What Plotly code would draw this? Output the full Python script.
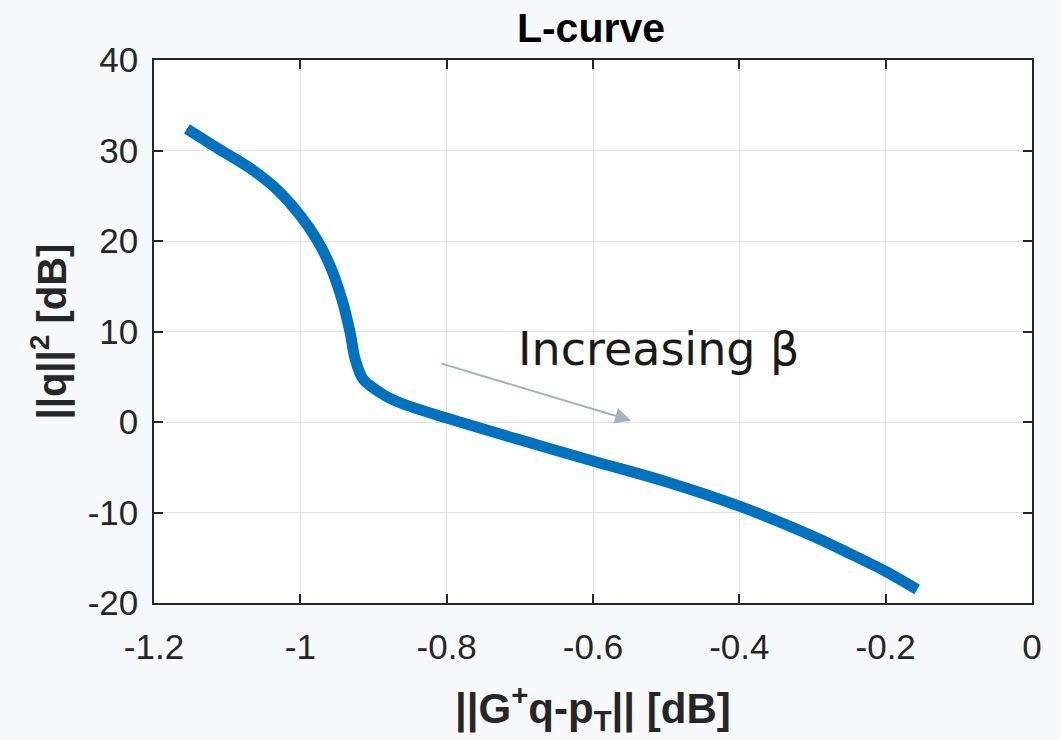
import plotly.graph_objects as go

# Data
residual_db = [-1.155, -1.114, -1.068, -1.032, -0.999, -0.977, -0.959, -0.943,
               -0.932, -0.925, -0.914, -0.886, -0.863, -0.8, -0.7, -0.6,
               -0.5, -0.4, -0.3, -0.25, -0.2, -0.157]
norm_db = [32.4, 30.3, 28.0, 25.7, 22.7, 20.1, 17.2, 13.5,
           9.9, 6.9, 4.7, 3.0, 2.1, 0.43, -1.97, -4.3,
           -6.6, -9.3, -12.6, -14.5, -16.5, -18.5]

x_ticks = [-1.2, -1, -0.8, -0.6, -0.4, -0.2, 0]
x_tick_labels = ["-1.2", "-1", "-0.8", "-0.6", "-0.4", "-0.2", "0"]
y_ticks = [-20, -10, 0, 10, 20, 30, 40]
y_tick_labels = ["-20", "-10", "0", "10", "20", "30", "40"]

arrow_tail = (-0.809, 6.5)
arrow_head = (-0.548, 0.17)
label_pos = (-0.511, 8.05)

axis_col = "#262626"
grid_col = "#E3E3E3"

fig = go.Figure()
fig.add_trace(go.Scatter(
    x=residual_db, y=norm_db, mode="lines",
    line=dict(color="#0072BD", width=11, shape="spline", smoothing=0.8),
    showlegend=False, hoverinfo="skip"))

common = dict(showline=True, linecolor=axis_col, linewidth=1.5, mirror="ticks",
              ticks="inside", ticklen=9, tickwidth=1.5, tickcolor=axis_col,
              showgrid=True, gridcolor=grid_col, gridwidth=1, zeroline=False,
              tickfont=dict(family="Liberation Sans, Arial, sans-serif", size=35, color=axis_col))

fig.update_xaxes(range=[-1.2, 0], tickvals=x_ticks, ticktext=x_tick_labels,
                 ticklabelstandoff=12, **common)
fig.update_yaxes(range=[-20, 40], tickvals=y_ticks, ticktext=y_tick_labels,
                 ticklabelstandoff=7, **common)

bold_x = dict(family="Liberation Sans, Arial, sans-serif", size=42, color=axis_col)
bold_y = dict(family="Liberation Sans, Arial, sans-serif", size=40, color=axis_col)

fig.add_annotation(text="<b>||G<sup>+</sup>q-p<sub>T</sub>|| [dB]</b>",
                   xref="paper", yref="paper", x=0.5, y=0, yshift=-73,
                   xanchor="center", yanchor="top", showarrow=False, font=bold_x)
fig.add_annotation(text="<b>||q||<sup>2</sup> [dB]</b>",
                   xref="paper", yref="paper", x=0, y=0.5, xshift=-104,
                   xanchor="center", yanchor="middle", textangle=-90,
                   showarrow=False, font=bold_y)

fig.add_annotation(x=arrow_head[0], y=arrow_head[1], ax=arrow_tail[0], ay=arrow_tail[1],
                   xref="x", yref="y", axref="x", ayref="y", text="",
                   showarrow=True, arrowhead=2, arrowsize=1.6, arrowwidth=2,
                   arrowcolor="#A3B3BF")
fig.add_annotation(x=label_pos[0], y=label_pos[1], xref="x", yref="y",
                   text="Increasing β", showarrow=False, xanchor="center", yanchor="middle",
                   font=dict(family="DejaVu Sans, sans-serif", size=46, color="#1A1A1A"))

fig.update_layout(
    width=1061, height=740,
    margin=dict(l=154, r=29, t=60, b=137),
    paper_bgcolor="#F8F9FD", plot_bgcolor="#FFFFFF",
    title=dict(text="<b>L-curve</b>", x=0.557, xanchor="center", y=0.962, yanchor="middle",
               font=dict(family="Liberation Sans, Arial, sans-serif", size=41, color="#000000")),
)

fig.write_html("out.html", config={"displayModeBar": False},
               post_script="document.body.style.margin='0';document.body.style.overflow='hidden';")
